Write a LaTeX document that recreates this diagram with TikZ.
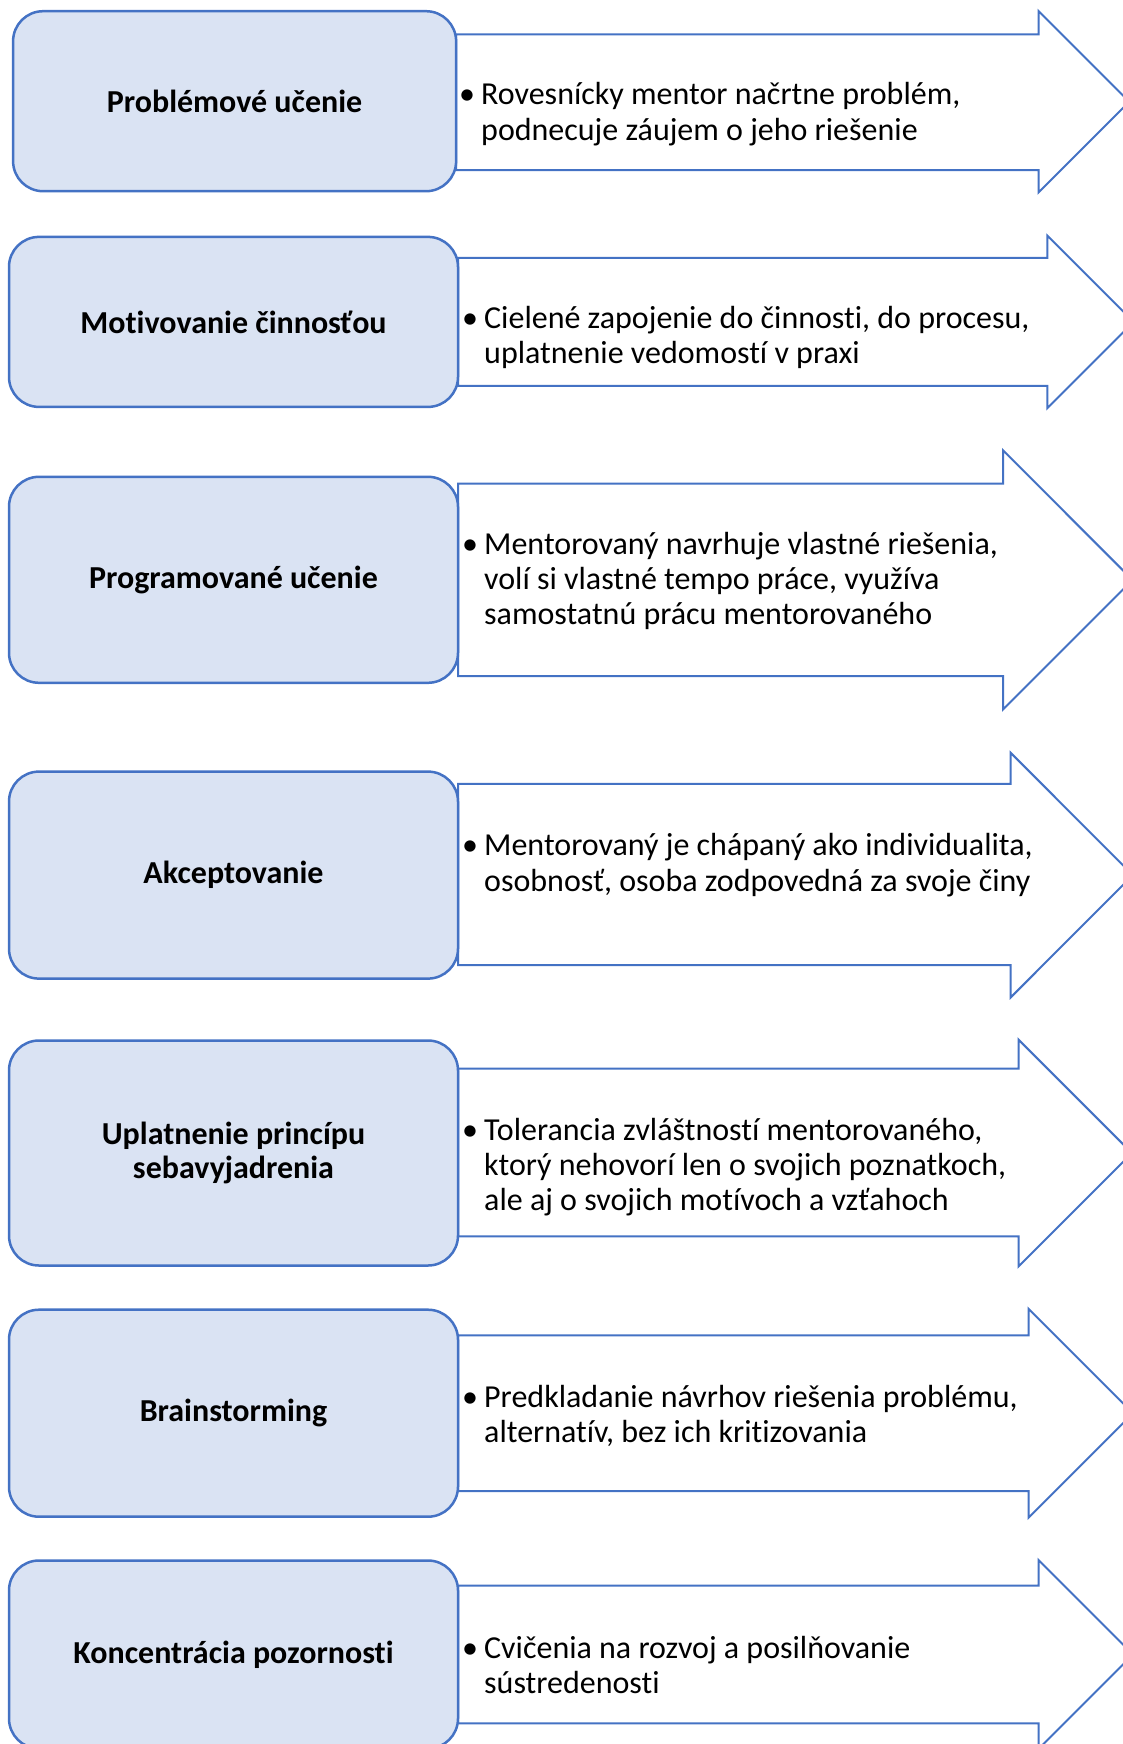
\documentclass[tikz,border=0pt]{standalone}
\usepackage{fontspec}
\setmainfont{Carlito}[Ligatures=NoCommon]
\definecolor{edgeblue}{HTML}{4472C4}
\definecolor{boxblue}{HTML}{DAE3F3}
\tikzset{lbl/.style={draw=edgeblue, fill=boxblue, line width=2.5pt, rounded corners=30pt,
    minimum width=449pt, align=center, font=\fontsize{32}{34}\selectfont\bfseries},
  arr/.style={draw=edgeblue, fill=white, line width=2pt, line join=miter},
  txt/.style={anchor=west, inner sep=0pt, align=left, font=\fontsize{32}{35.3}\selectfont}}
\newcommand{\bul}[1]{\makebox[18pt][l]{\kern-4pt\textbullet}\parbox[t]{600pt}{#1}}

\begin{document}
\begin{tikzpicture}[x=1pt,y=-1pt]
  \useasboundingbox (0,0) rectangle (1123,1744);
  \clip (0,0) rectangle (1123,1744);
  % arrows
  \draw[arr] (456,34.5) -- (1038.5,34.5) -- (1038.5,11.1) -- (1129.2,101.7) -- (1038.5,192.4) -- (1038.5,170.1) -- (456,170.1) -- cycle;
  \draw[arr] (458,258) -- (1047.4,258) -- (1047.4,235.7) -- (1133.6,321.9) -- (1047.4,408.1) -- (1047.4,385.8) -- (458,385.8) -- cycle;
  \draw[arr] (458,483.7) -- (1003,483.7) -- (1003,450.3) -- (1132.5,579.9) -- (1003,709.4) -- (1003,676) -- (458,676) -- cycle;
  \draw[arr] (458,783.9) -- (1010.7,783.9) -- (1010.7,752.8) -- (1132.8,875.1) -- (1010.7,997.4) -- (1010.7,965.1) -- (458,965.1) -- cycle;
  \draw[arr] (458,1068.5) -- (1018.5,1068.5) -- (1018.5,1039.6) -- (1131.9,1153) -- (1018.5,1266.5) -- (1018.5,1236.4) -- (458,1236.4) -- cycle;
  \draw[arr] (458,1335.4) -- (1028.5,1335.4) -- (1028.5,1308.7) -- (1133,1413.2) -- (1028.5,1517.7) -- (1028.5,1491.1) -- (458,1491.1) -- cycle;
  \draw[arr] (458,1585.6) -- (1038.5,1585.6) -- (1038.5,1560) -- (1133,1654.5) -- (1038.5,1749) -- (1038.5,1723.4) -- (458,1723.4) -- cycle;
  % boxes
  \node[lbl, minimum width=443pt, minimum height=180pt] (pu) at (234.6,101.2) {Problémové učenie};
  \node[lbl, minimum height=170pt] (mc) at (233.5,321.9) {Motivovanie činnosťou};
  \node[lbl, minimum height=206pt] (prog) at (233.5,579.8) {Programované učenie};
  \node[lbl, minimum height=207pt] (akc) at (233.5,875.1) {Akceptovanie};
  \node[lbl, minimum height=225pt] (upl) at (233.5,1153) {Uplatnenie princípu\\sebavyjadrenia};
  \node[lbl, minimum height=207pt] (brain) at (233.5,1413.2) {Brainstorming};
  \node[lbl, minimum height=188pt] (konc) at (233.5,1654.5) {Koncentrácia pozornosti};
  % texts
  \node[txt] (pu-t) at (463,114) {\bul{Rovesnícky mentor načrtne problém,\\podnecuje záujem o jeho riešenie}};
  \node[txt] (mc-t) at (466,337.7) {\bul{Cielené zapojenie do činnosti, do procesu,\\uplatnenie vedomostí v praxi}};
  \node[txt] (prog-t) at (466,581) {\bul{Mentorovaný navrhuje vlastné riešenia,\\volí si vlastné tempo práce, využíva\\samostatnú prácu mentorovaného}};
  \node[txt] (akc-t) at (466,865) {\bul{Mentorovaný je chápaný ako individualita,\\osobnosť, osoba zodpovedná za svoje činy}};
  \node[txt] (upl-t) at (466,1167) {\bul{Tolerancia zvláštností mentorovaného,\\ktorý nehovorí len o svojich poznatkoch,\\ale aj o svojich motívoch a vzťahoch}};
  \node[txt] (brain-t) at (466,1416) {\bul{Predkladanie návrhov riešenia problému,\\alternatív, bez ich kritizovania}};
  \node[txt] (konc-t) at (466,1665) {\bul{Cvičenia na rozvoj a posilňovanie\\sústredenosti}};
\end{tikzpicture}
\end{document}
